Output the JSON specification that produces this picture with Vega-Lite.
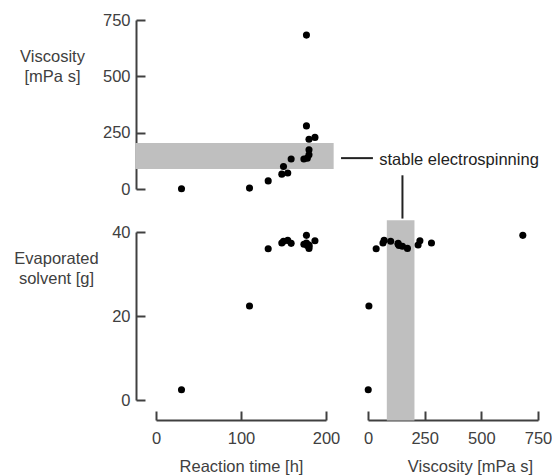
{
  "$schema": "https://vega.github.io/schema/vega-lite/v6.json",
  "autosize": "none",
  "padding": {"left": 156, "top": 20, "right": 396, "bottom": 456},
  "background": "white",
  "config": {
    "view": {"stroke": null},
    "font": "Liberation Sans",
    "axis": {
      "grid": false,
      "offset": 20,
      "labelFlush": false,
      "domainColor": "#404040",
      "domainWidth": 2,
      "tickColor": "#404040",
      "tickWidth": 2,
      "tickSize": -9,
      "labelFont": "Liberation Sans",
      "labelFontSize": 16.5,
      "labelColor": "#404040",
      "titleFont": "Liberation Sans",
      "titleFontSize": 16.5,
      "titleFontWeight": "normal",
      "titleColor": "#404040"
    },
    "axisLeft": {
      "labelPadding": 15,
      "titleAngle": 0,
      "titleAlign": "center",
      "titleBaseline": "middle",
      "titleLineHeight": 20
    },
    "axisBottom": {
      "labelPadding": 19,
      "titleY": 46,
      "titleBaseline": "middle"
    }
  },
  "datasets": {
    "samples": [
      {"time": 30, "visc": 1, "solvent": 2.45},
      {"time": 110, "visc": 4, "solvent": 22.4},
      {"time": 132, "visc": 36, "solvent": 36.0},
      {"time": 148, "visc": 66, "solvent": 37.4},
      {"time": 155, "visc": 71, "solvent": 38.0},
      {"time": 150, "visc": 100, "solvent": 37.8},
      {"time": 159, "visc": 133, "solvent": 37.3},
      {"time": 174, "visc": 133, "solvent": 37.1},
      {"time": 178, "visc": 137, "solvent": 36.8},
      {"time": 180, "visc": 152, "solvent": 36.6},
      {"time": 180, "visc": 174, "solvent": 36.1},
      {"time": 180, "visc": 221, "solvent": 36.9},
      {"time": 187, "visc": 229, "solvent": 37.9},
      {"time": 177, "visc": 280, "solvent": 37.4},
      {"time": 177, "visc": 683, "solvent": 39.2}
    ],
    "bandTop": [{"x1": -24.5, "x2": 209, "y1": 88.6, "y2": 203.8}],
    "bandRight": [{"x1": 83, "x2": 205, "y1": -4.9, "y2": 42.8}],
    "labelLine": [{"x1": 217.7, "x2": 255.2, "y": 137, "text": "stable electrospinning", "tx": 262.6}],
    "labelDrop": [{"x": 152, "y1": 43.2, "y2": 53.5}]
  },
  "spacing": 43,
  "bounds": "flush",
  "vconcat": [
    {
      "width": 170,
      "height": 169,
      "layer": [
        {
          "data": {"name": "bandTop"},
          "mark": {"type": "rect", "color": "#bfbfbf", "clip": false},
          "encoding": {
            "x": {"field": "x1", "type": "quantitative", "scale": {"domain": [0, 200], "nice": false}, "axis": null},
            "x2": {"field": "x2"},
            "y": {"field": "y1", "type": "quantitative", "scale": {"domain": [0, 750], "nice": false},
                  "axis": {"values": [0, 250, 500, 750], "title": ["Viscosity", "[mPa s]"], "titleX": -84, "titleY": 36}},
            "y2": {"field": "y2"}
          }
        },
        {
          "data": {"name": "samples"},
          "mark": {"type": "circle", "size": 50, "opacity": 1, "color": "black"},
          "encoding": {
            "x": {"field": "time", "type": "quantitative"},
            "y": {"field": "visc", "type": "quantitative"}
          }
        },
        {
          "data": {"name": "labelLine"},
          "mark": {"type": "rule", "color": "#222222", "strokeWidth": 2, "clip": false},
          "encoding": {
            "x": {"field": "x1", "type": "quantitative"},
            "x2": {"field": "x2"},
            "y": {"field": "y", "type": "quantitative"}
          }
        },
        {
          "data": {"name": "labelLine"},
          "mark": {"type": "text", "align": "left", "baseline": "middle", "fontSize": 16.5, "color": "#222222", "dy": 2, "clip": false},
          "encoding": {
            "x": {"field": "tx", "type": "quantitative"},
            "y": {"field": "y", "type": "quantitative"},
            "text": {"field": "text"}
          }
        }
      ]
    },
    {
      "spacing": 42,
      "bounds": "flush",
      "hconcat": [
        {
          "width": 170,
          "height": 168,
          "data": {"name": "samples"},
          "mark": {"type": "circle", "size": 50, "opacity": 1, "color": "black"},
          "encoding": {
            "x": {"field": "time", "type": "quantitative", "scale": {"domain": [0, 200], "nice": false},
                  "axis": {"values": [0, 100, 200], "title": "Reaction time [h]"}},
            "y": {"field": "solvent", "type": "quantitative", "scale": {"domain": [0, 40], "nice": false},
                  "axis": {"values": [0, 20, 40], "title": ["Evaporated", "solvent [g]"], "titleX": -80, "titleY": 26}}
          }
        },
        {
          "width": 170,
          "height": 168,
          "layer": [
            {
              "data": {"name": "bandRight"},
              "mark": {"type": "rect", "color": "#bfbfbf", "clip": false},
              "encoding": {
                "x": {"field": "x1", "type": "quantitative", "scale": {"domain": [0, 750], "nice": false},
                      "axis": {"values": [0, 250, 500, 750], "title": "Viscosity [mPa s]", "titleX": 102}},
                "x2": {"field": "x2"},
                "y": {"field": "y1", "type": "quantitative", "scale": {"domain": [0, 40], "nice": false}, "axis": null},
                "y2": {"field": "y2"}
              }
            },
            {
              "data": {"name": "labelDrop"},
              "mark": {"type": "rule", "color": "#222222", "strokeWidth": 2, "clip": false},
              "encoding": {
                "x": {"field": "x", "type": "quantitative"},
                "y": {"field": "y1", "type": "quantitative"},
                "y2": {"field": "y2"}
              }
            },
            {
              "data": {"name": "samples"},
              "mark": {"type": "circle", "size": 50, "opacity": 1, "color": "black"},
              "encoding": {
                "x": {"field": "visc", "type": "quantitative"},
                "y": {"field": "solvent", "type": "quantitative"}
              }
            }
          ]
        }
      ]
    }
  ]
}
